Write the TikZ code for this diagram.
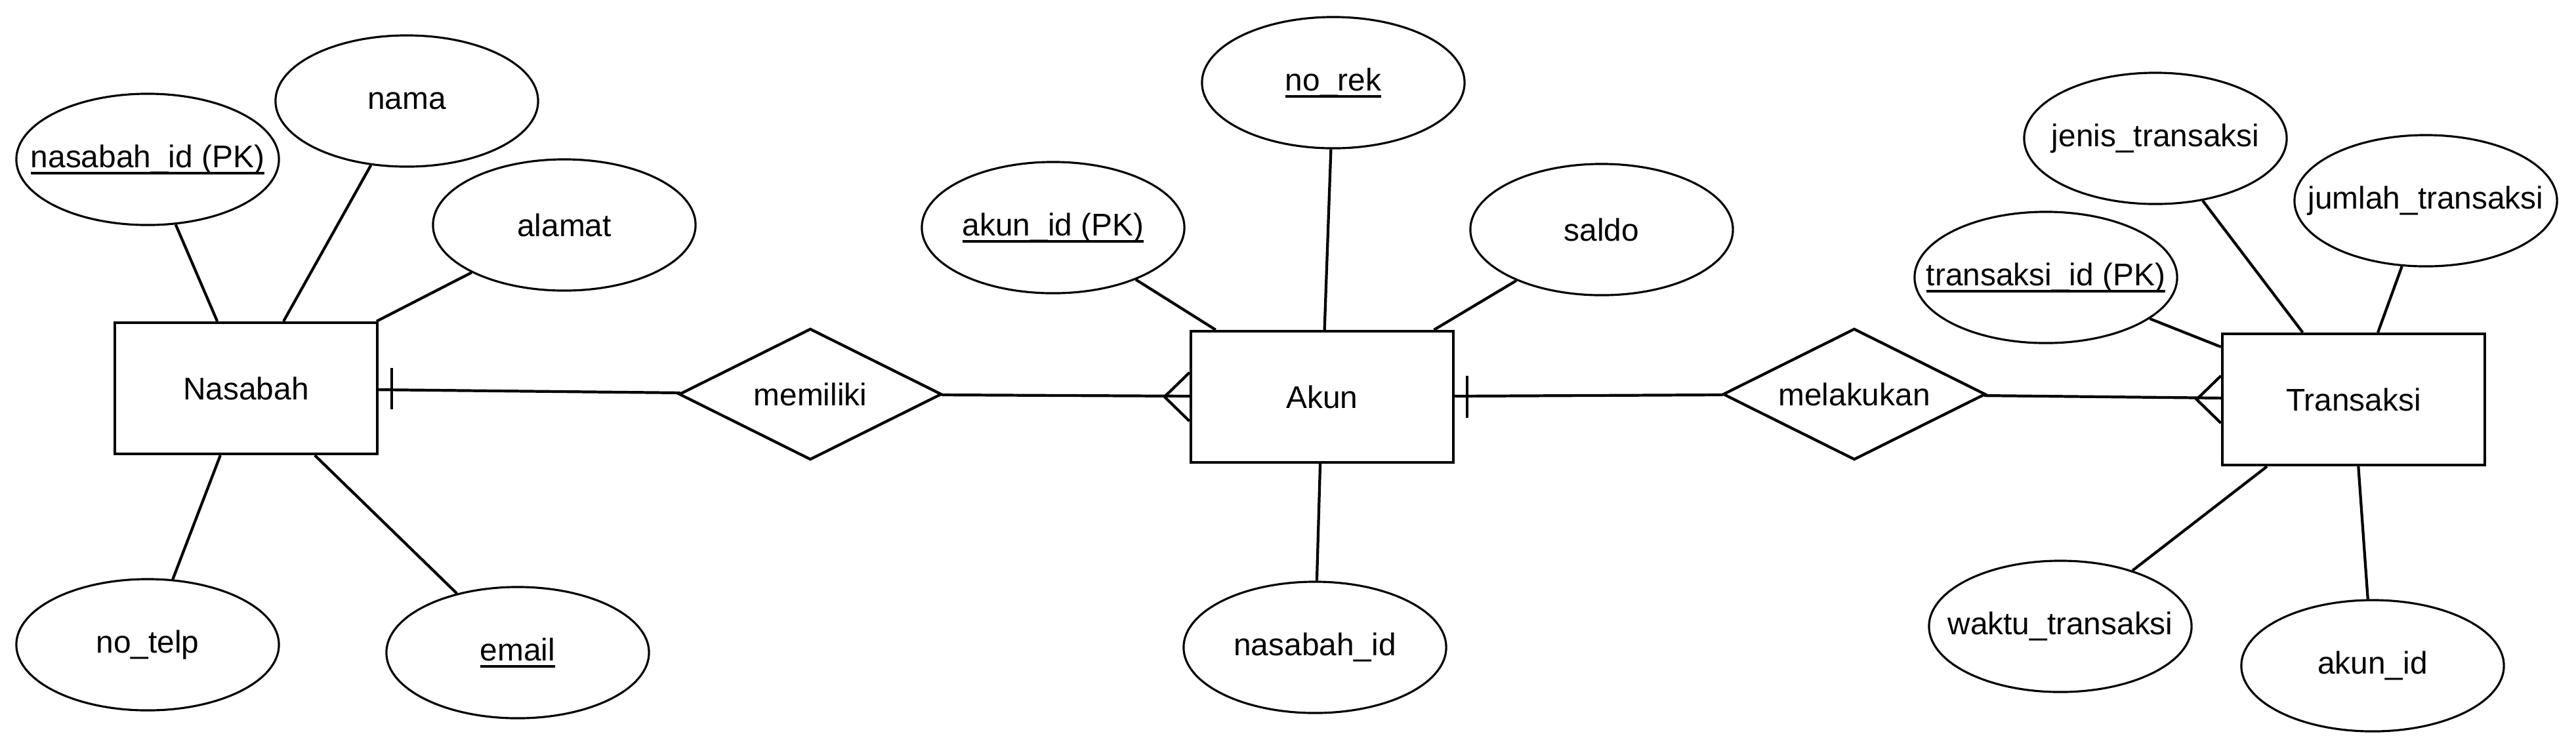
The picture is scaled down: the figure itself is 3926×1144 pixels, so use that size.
\documentclass[tikz,border=0pt]{standalone}
\usepackage{fontspec}
\setmainfont{Liberation Sans}
\usetikzlibrary{shapes.geometric,calc}
\newcommand{\attr}[1]{\makebox[0pt]{#1}}
\newcommand{\kunci}[1]{\setbox0\hbox{#1}\rlap{\raisebox{-3pt}{\rule{\wd0}{0.9pt}}}\box0}

\begin{document}
\begin{tikzpicture}[x=0.01cm,y=-0.01cm,line width=1.2pt,
  every node/.style={font=\fontsize{13.6}{16}\selectfont},
  entity/.style={draw,rectangle,minimum width=4cm,minimum height=2cm,inner sep=0pt},
  relasi/.style={draw,diamond,aspect=2,minimum width=4cm,minimum height=2cm,inner sep=0pt},
  atribut/.style={draw,ellipse,minimum width=4cm,minimum height=2cm,inner sep=0pt,line width=0.9pt}]
\useasboundingbox (0,0) rectangle (3926,1144);

\node[entity] (nasabah) at (375,592) {Nasabah};
\node[entity] (akun) at (2015,605) {Akun};
\node[entity] (transaksi) at (3587,609) {Transaksi};
\node[relasi] (memiliki) at (1235,601) {memiliki};
\node[relasi] (melakukan) at (2826,601) {melakukan};

%nasabah
\node[atribut] (nasabahId) at (225,243) {\attr{\kunci{nasabah\_id (PK)}}};
\node[atribut] (nama) at (620,154) {\attr{nama}};
\node[atribut] (alamat) at (860,343) {\attr{alamat}};
\node[atribut] (noTelp) at (225,983) {\attr{no\_telp}};
\node[atribut] (email) at (789,995) {\attr{\kunci{email}}};
\draw[-] (nasabahId) to (nasabah);
\draw[-] (nama) to (nasabah);
\draw[-] (alamat) to (nasabah);
\draw[-] (noTelp) to (nasabah);
\draw[-] (email) to (nasabah);

%akun
\node[atribut] (akunId) at (1605,347) {\attr{\kunci{akun\_id (PK)}}};
\node[atribut] (noRek) at (2032,126) {\attr{\kunci{no\_rek}}};
\node[atribut] (saldo) at (2441,350) {\attr{saldo}};
\node[atribut] (nasabahFk) at (2004,987) {\attr{nasabah\_id}};
\draw[-] (akunId) to (akun);
\draw[-] (noRek) to (akun);
\draw[-] (saldo) to (akun);
\draw[-] (nasabahFk) to (akun);

%transaksi
\node[atribut] (transaksiId) at (3118,423) {\attr{\kunci{transaksi\_id (PK)}}};
\node[atribut] (jenis) at (3285,211) {\attr{jenis\_transaksi}};
\node[atribut] (jumlah) at (3697,306) {\attr{jumlah\_transaksi}};
\node[atribut] (waktu) at (3140,955) {\attr{waktu\_transaksi}};
\node[atribut] (akunFk) at (3616,1015) {\attr{akun\_id}};
\draw[-] (transaksiId) to (transaksi);
\draw[-] (jenis) to (transaksi);
\draw[-] (jumlah) to (transaksi);
\draw[-] (waktu) to (transaksi);
\draw[-] (akunFk) to (transaksi);

%relasi
\draw[-] (nasabah) to (memiliki);
\draw[-] (memiliki) to (akun);
\draw[-] (akun) to (melakukan);
\draw[-] (melakukan) to (transaksi);

%kardinalitas
\draw[-] ($(nasabah.east)+(20,-31)$) to ($(nasabah.east)+(20,32)$);
\draw[-] ($(akun.east)+(19,-32)$) to ($(akun.east)+(19,32)$);
\draw[-] ($(akun.west)+(0,-37)$) to ($(akun.west)+(-38,0)$) to ($(akun.west)+(0,37)$);
\draw[-] ($(transaksi.west)+(0,-36)$) to ($(transaksi.west)+(-37,0)$) to ($(transaksi.west)+(0,36)$);
\end{tikzpicture}
\end{document}
